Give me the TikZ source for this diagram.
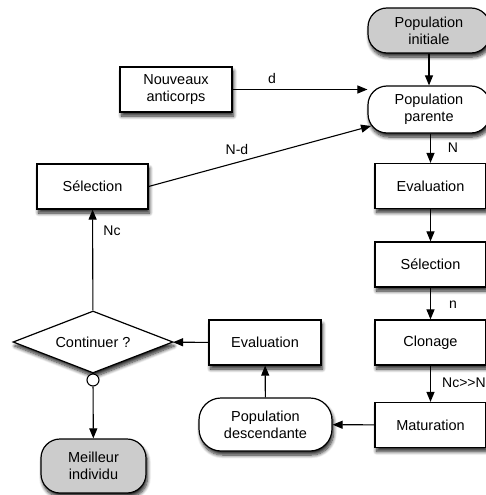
\documentclass[tikz,border=0pt]{standalone}
\usepackage{fontspec}
\setmainfont{Liberation Sans}
\usetikzlibrary{arrows.meta,shapes.geometric,shadows.blur,calc}
\begin{document}
\begin{tikzpicture}[x=1pt,y=-1pt,
  every node/.style={font=\fontsize{14.5}{17}\selectfont},
  shad/.style={blur shadow={shadow xshift=1.5pt,shadow yshift=-4pt,shadow blur steps=8,shadow blur radius=3.5pt,shadow opacity=85}},
  box/.style={draw,line width=1.2pt,fill=white,minimum width=111pt,minimum height=45pt,align=center,inner sep=0pt,shad},
  rbox/.style={box,rounded corners=19pt},
  gbox/.style={rbox,fill=black!20},
  conn/.style={line width=1.1pt,-{Triangle[length=10pt,width=8pt]}},
  lbl/.style={font=\fontsize{14}{17}\selectfont,inner sep=0pt}
]
\useasboundingbox (0,0) rectangle (486,495);
% right column
\node[gbox,minimum width=122pt,minimum height=45pt] (init) at (429,30.5) {Population\\initiale};
\node[rbox,minimum width=122pt,minimum height=47pt] (parente) at (429,109.5) {Population\\parente};
\node[box] (eval1) at (430.5,186) {Evaluation};
\node[box] (sel1) at (430.5,264.5) {Sélection};
\node[box] (clon) at (430.5,342.5) {Clonage};
\node[box] (mat) at (430.5,425) {Maturation};
% middle
\node[box,minimum width=112pt] (nouv) at (176,89.5) {Nouveaux\\anticorps};
\node[box,minimum width=112pt] (eval2) at (265,342.5) {Evaluation};
\node[rbox,minimum width=133pt,minimum height=53pt,rounded corners=22pt] (desc) at (265.5,424.5) {Population\\descendante};
% left
\node[box] (sel2) at (92.5,186.5) {Sélection};
\node[diamond,draw,line width=1.2pt,fill=white,minimum width=160pt,minimum height=62pt,aspect=2.58,inner sep=0pt,shad] (cont) at (93,342) {Continuer ?};
\node[rbox,fill=black!20,minimum width=105pt,minimum height=54pt] (best) at (93.5,466) {Meilleur\\individu};
\node[circle,draw,line width=1.1pt,fill=white,minimum size=12pt,inner sep=0pt] (circ) at (93,380) {};
\coordinate (pin) at (371,126);
% connectors
\draw[conn] (init) -- (parente);
\draw[conn] (parente.south -| eval1) -- (eval1);
\draw[conn] (eval1) -- (sel1);
\draw[conn] (sel1) -- (clon);
\draw[conn] (clon) -- (mat);
\draw[conn] (mat) -- (desc);
\draw[conn] (desc) -- (eval2);
\draw[conn] (eval2) -- (cont);
\draw[conn] (cont) -- (sel2);
\draw[line width=1.1pt] (cont.south) -- (circ);
\draw[conn] (circ) -- (best);
\draw[conn] (nouv.east) -- (nouv.east -| parente.west);
\draw[conn] (sel2.east) -- (pin);
% labels
\node[lbl] at (272,78) {d};
\node[lbl] at (237,149) {N-d};
\node[lbl] at (453,148) {N};
\node[lbl] at (453,305) {n};
\node[lbl,anchor=west] at (442,383) {Nc>\kern0pt>N};
\node[lbl] at (112,231) {Nc};
\end{tikzpicture}
\end{document}
